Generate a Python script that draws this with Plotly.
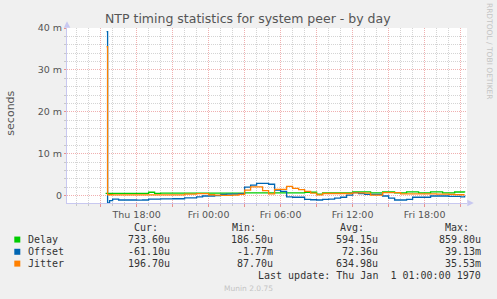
import math
import pandas as pd
import plotly.graph_objects as go

# ---------------- data ----------------
nan = float("nan")
t_head = ["2025-01-02 15:25", "2025-01-02 15:30", "2025-01-02 15:35", "2025-01-02 15:45"]
t_grid = [str(t) for t in pd.date_range("2025-01-02 16:00", "2025-01-03 21:00", freq="30min")]
t_tail = ["2025-01-03 21:20"]
times = t_head + t_grid + t_tail

# values in milliseconds
delay_ms = [0.55, 0.55, 0.55, 0.55,
            0.55, 0.55, 0.55, 0.55, 0.55, 0.55, 0.8, 0.55,
            0.6, 0.6, 0.6, 0.6, 0.6, 0.6, 0.6, 0.6, 0.6, 0.6, 0.6, 0.6, 0.6, 0.6,
            0.65, 0.65, 0.65, 0.65, 0.65, 0.65, 0.65, 0.65, 0.65, 0.65,
            0.8, 0.8, 0.35,
            0.65, 0.65, 0.65, 0.65, 0.65,
            0.9, 0.9, 0.9, 0.65, 0.65, 0.9, 0.9, 0.65, 0.65, 0.9, 0.9,
            0.65, 0.65, 0.9, 0.9, 0.65, 0.65, 0.85, 0.85,
            0.73]
offset_ms = [nan, 39.13, -1.77, -1.2,
             -0.85, -1.05, -1.05, -1.05, -1.1, -1.05, -0.85, -0.85, -0.8, -0.8,
             -0.75, -0.75, -0.55, -0.55, -0.3, -0.1, -0.1, 0.0, 0.3, 0.35,
             0.35, 0.45, 2.0, 2.5, 2.9, 2.9, 2.7, 1.3, 1.0, -0.3,
             -0.4, -0.4, -0.9, -1.0, -1.05, -0.9, -0.85, -0.6, -0.4,
             0.1, 0.7, 0.5, 0.3, 0.3, 0.3, -0.1, -0.6, -1.05, -1.05,
             -0.9, -0.4, -0.4, -0.4, -0.1, -0.1, -0.1, -0.2, -0.2, -0.3,
             -0.06]
jitter_ms = [nan, 35.53, 0.2, 0.2,
             0.15, 0.15, 0.15, 0.15, 0.15, 0.15, 0.15, 0.15, 0.15, 0.15, 0.15, 0.15,
             0.35, 0.35, 0.45, 0.45,
             0.2, 0.1, 0.05, 0.05, 0.1,
             0.3,
             1.3, 2.1, 2.1, 1.2, 0.4, 1.5, 1.5, 2.2, 1.7, 1.4, 1.0, 0.6, 0.15,
             0.5, 0.5, 0.5, 0.5, 0.5,
             0.65, 0.65, 0.6,
             0.1, 0.1,
             0.7, 0.7, 0.7,
             0.4, 0.4, 0.4, 0.4, 0.4, 0.4,
             0.35, 0.35, 0.3, 0.25, 0.2,
             0.2]

series_names = ["Delay", "Offset", "Jitter"]
series_colors = ["#00CC00", "#0066B3", "#FF8000"]
series_values = [delay_ms, offset_ms, jitter_ms]

cur_vals = ["733.60u", "-61.10u", "196.70u"]
min_vals = ["186.50u", "-1.77m", "87.70u"]
avg_vals = ["594.15u", "72.36u", "634.98u"]
max_vals = ["859.80u", "39.13m", "35.53m"]

y_tick_vals = [0, 0.01, 0.02, 0.03, 0.04]
y_tick_text = ["0", "10 m", "20 m", "30 m", "40 m"]

x_tick_vals = ["2025-01-02 15:00", "2025-01-02 18:00", "2025-01-02 21:00", "2025-01-03 00:00",
               "2025-01-03 03:00", "2025-01-03 06:00", "2025-01-03 09:00", "2025-01-03 12:00",
               "2025-01-03 15:00", "2025-01-03 18:00", "2025-01-03 21:00"]
x_tick_text = ["", "Thu 18:00", "", "Fri 00:00", "", "Fri 06:00", "", "Fri 12:00", "", "Fri 18:00", ""]

title_text = "NTP timing statistics for system peer - by day"
last_update = "Last update: Thu Jan  1 01:00:00 1970"

# ---------------- layout geometry (pixels) ----------------
W, H = 497, 299
PL, PR, PT, PB = 66.7, 466.7, 28.3, 203.0


def px(x):
    return (x - PL) / (PR - PL)


def py(y):
    return (PB - y) / (PB - PT)


fig = go.Figure()
for name, color, vals in zip(series_names, series_colors, series_values):
    fig.add_trace(go.Scatter(
        x=times, y=[v * 1e-3 for v in vals], mode="lines", name=name,
        line=dict(color=color, width=1.3, shape="hv"), connectgaps=False,
        showlegend=False, hoverinfo="skip"))

axis_col = "#C8C8F0"
major_grid = "#F0B0B0"
minor_grid = "#D4D4D4"
text_col = "#555555"
dots = "1px,1px"

fig.update_xaxes(
    type="date", range=["2025-01-02 12:12", "2025-01-03 21:32"],
    tickmode="array", tickvals=x_tick_vals, ticktext=x_tick_text,
    showgrid=True, gridcolor=major_grid, griddash=dots, gridwidth=1,
    ticks="outside", ticklen=3, tickcolor="#E89090",
    showline=True, linecolor=axis_col, linewidth=1,
    zeroline=False,
    tickfont=dict(family="DejaVu Sans", size=9.5, color=text_col),
    minor=dict(dtick=3600000, tick0="2025-01-02 00:00", showgrid=True,
               gridcolor=minor_grid, griddash=dots, gridwidth=1,
               ticks="outside", ticklen=2, tickcolor="#C8C8C8"),
)
fig.update_yaxes(
    range=[-0.00177, 0.040],
    tickmode="array", tickvals=y_tick_vals, ticktext=y_tick_text,
    showgrid=True, gridcolor=major_grid, griddash=dots, gridwidth=1,
    ticks="outside", ticklen=2, tickcolor="#E89090",
    showline=True, linecolor=axis_col, linewidth=1,
    zeroline=False,
    tickfont=dict(family="DejaVu Sans", size=9.5, color=text_col),
    minor=dict(dtick=0.002, tick0=0, showgrid=True,
               gridcolor=minor_grid, griddash=dots, gridwidth=1,
               ticks="outside", ticklen=2, tickcolor="#C8C8C8"),
)

shapes = []
# axis arrows
shapes.append(dict(type="path", xref="paper", yref="paper",
                   path=f"M {px(63.5)} {py(28.0)} L {px(70.0)} {py(28.0)} L {px(66.7)} {py(21.5)} Z",
                   fillcolor=axis_col, line=dict(width=0)))
shapes.append(dict(type="path", xref="paper", yref="paper",
                   path=f"M {px(467.0)} {py(199.7)} L {px(467.0)} {py(206.3)} L {px(473.5)} {py(203.0)} Z",
                   fillcolor=axis_col, line=dict(width=0)))

annotations = []
annotations.append(dict(text=title_text, x=px(248.0), y=py(19.0), xref="paper", yref="paper",
                        showarrow=False, xanchor="center", yanchor="middle",
                        font=dict(family="DejaVu Sans", size=12.5, color=text_col)))
annotations.append(dict(text="seconds", x=px(10.5), y=py(113.0), xref="paper", yref="paper",
                        showarrow=False, xanchor="center", yanchor="middle", textangle=-90,
                        font=dict(family="DejaVu Sans", size=11, color=text_col)))
annotations.append(dict(text="RRDTOOL / TOBI OETIKER", x=px(488.5), y=py(52.0), xref="paper", yref="paper",
                        showarrow=False, xanchor="center", yanchor="middle", textangle=90,
                        font=dict(family="DejaVu Sans", size=7.5, color="#C4C4C4")))

mono = "DejaVu Sans Mono"
leg_col = "#333333"
row_y = [239.5, 251.7, 263.5]
headers = [("Cur:", 159.5), ("Min:", 257.3), ("Avg:", 365.3), ("Max:", 470.3)]
for h, xr in headers:
    annotations.append(dict(text=h, x=px(xr), y=py(227.3), xref="paper", yref="paper",
                            showarrow=False, xanchor="right", yanchor="middle",
                            font=dict(family=mono, size=10, color=leg_col)))
col_right = [171.8, 275.0, 379.3, 482.3]
for i, (name, color) in enumerate(zip(series_names, series_colors)):
    yy = row_y[i]
    shapes.append(dict(type="rect", xref="paper", yref="paper",
                       x0=px(14.0), x1=px(20.0), y0=py(yy - 3.0), y1=py(yy + 3.0),
                       fillcolor=color, line=dict(width=0)))
    annotations.append(dict(text=name, x=px(26.0), y=py(yy), xref="paper", yref="paper",
                            showarrow=False, xanchor="left", yanchor="middle",
                            font=dict(family=mono, size=10, color=leg_col)))
    for col, xr in zip([cur_vals, min_vals, avg_vals, max_vals], col_right):
        annotations.append(dict(text=col[i], x=px(xr), y=py(yy), xref="paper", yref="paper",
                                showarrow=False, xanchor="right", yanchor="middle",
                                font=dict(family=mono, size=10, color=leg_col)))
annotations.append(dict(text=last_update.replace(" ", "&nbsp;"), x=px(482.3), y=py(275.3),
                        xref="paper", yref="paper",
                        showarrow=False, xanchor="right", yanchor="middle",
                        font=dict(family=mono, size=10, color=leg_col)))
annotations.append(dict(text="Munin 2.0.75", x=px(248.0), y=py(288.3), xref="paper", yref="paper",
                        showarrow=False, xanchor="center", yanchor="middle",
                        font=dict(family="DejaVu Sans", size=7.5, color="#C4C4C4")))

fig.update_layout(
    width=W, height=H, autosize=False,
    margin=dict(l=PL, r=W - PR, t=PT, b=H - PB, pad=0),
    paper_bgcolor="#F0F0F0", plot_bgcolor="#FFFFFF",
    shapes=shapes, annotations=annotations, showlegend=False,
)

fig.write_html("out.html", config={"displayModeBar": False})
